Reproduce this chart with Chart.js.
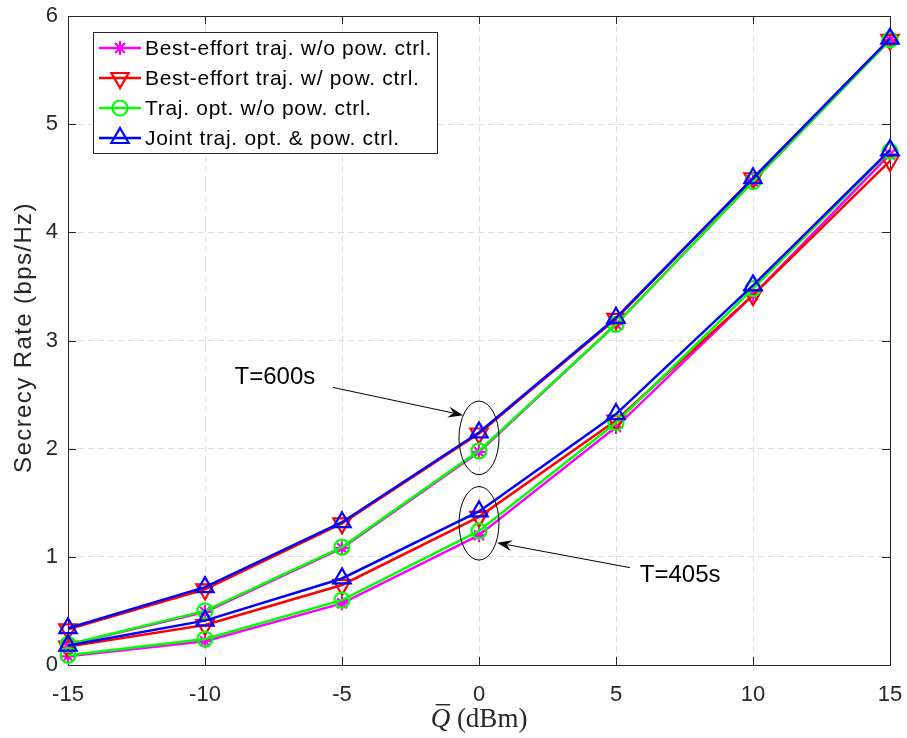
<!DOCTYPE html>
<html>
<head>
<meta charset="utf-8">
<script src="https://cdn.jsdelivr.net/npm/chart.js@4.4.0/dist/chart.umd.min.js"></script>
<style>
  html, body { margin: 0; padding: 0; background: #fff; }
</style>
</head>
<body>
<canvas id="chart" width="907" height="738"></canvas>
<script>
// Q̄ (dBm)
const qdBm = [-15, -10, -5, 0, 5, 10, 15];

// T = 600 s
const bestNoPow600 = [0.19, 0.49, 1.08, 1.97, 3.15, 4.47, 5.78];
const bestPow600   = [0.33, 0.70, 1.31, 2.14, 3.20, 4.50, 5.78];
const trajNoPow600 = [0.19, 0.50, 1.09, 1.98, 3.15, 4.47, 5.78];
const joint600     = [0.34, 0.72, 1.32, 2.15, 3.21, 4.50, 5.79];

// T = 405 s
const bestNoPow405 = [0.08, 0.22, 0.57, 1.20, 2.20, 3.42, 4.72];
const bestPow405   = [0.17, 0.37, 0.74, 1.37, 2.26, 3.42, 4.66];
const trajNoPow405 = [0.09, 0.24, 0.60, 1.24, 2.24, 3.48, 4.75];
const joint405     = [0.18, 0.41, 0.80, 1.42, 2.32, 3.51, 4.76];

const xTicks = [-15, -10, -5, 0, 5, 10, 15];
const yTicks = [0, 1, 2, 3, 4, 5, 6];

const series = [
  { label: 'Best-effort traj. w/o pow. ctrl.', color: '#ff00ff', style: 'star', rot: 0, r: 7, order: 4 },
  { label: 'Best-effort traj. w/ pow. ctrl.', color: '#ff0000', style: 'triangle', rot: 180, r: 10, order: 3 },
  { label: 'Traj. opt. w/o pow. ctrl.', color: '#00ff00', style: 'circle', rot: 0, r: 7.5, order: 2 },
  { label: 'Joint traj. opt. & pow. ctrl.', color: '#0000ff', style: 'triangle', rot: 0, r: 10, order: 1 },
];
const values600 = [bestNoPow600, bestPow600, trajNoPow600, joint600];
const values405 = [bestNoPow405, bestPow405, trajNoPow405, joint405];

const toPoints = arr => qdBm.map((q, i) => ({ x: q, y: arr[i] }));

const datasets = [];
[values600, values405].forEach(group => {
  group.forEach((vals, k) => {
    const s = series[k];
    datasets.push({
      label: s.label,
      data: toPoints(vals),
      borderColor: s.color,
      backgroundColor: 'rgba(0,0,0,0)',
      borderWidth: 2.5,
      pointStyle: s.style,
      pointRotation: s.rot,
      pointRadius: s.r,
      pointBorderWidth: 2.2,
      pointBorderColor: s.color,
      pointBackgroundColor: 'rgba(0,0,0,0)',
      tension: 0,
      clip: false,
      order: s.order,
    });
  });
});

const INK = '#262626';
const SANS = '"Liberation Sans", Arial, sans-serif';
const SERIF = '"Liberation Serif", "Times New Roman", serif';

function drawArrow(ctx, x0, y0, x1, y1) {
  const ang = Math.atan2(y1 - y0, x1 - x0);
  const L = 15, W = 5.5;
  ctx.beginPath();
  ctx.moveTo(x0, y0);
  ctx.lineTo(x1 - Math.cos(ang) * L * 0.7, y1 - Math.sin(ang) * L * 0.7);
  ctx.stroke();
  ctx.save();
  ctx.translate(x1, y1);
  ctx.rotate(ang);
  ctx.beginPath();
  ctx.moveTo(0, 0);
  ctx.lineTo(-L, -W);
  ctx.lineTo(-L * 0.65, 0);
  ctx.lineTo(-L, W);
  ctx.closePath();
  ctx.fill();
  ctx.restore();
}

function drawMarker(ctx, s, x, y) {
  ctx.save();
  ctx.strokeStyle = s.color;
  ctx.fillStyle = 'rgba(0,0,0,0)';
  ctx.lineWidth = 2.2;
  Chart.helpers.drawPoint(ctx, { pointStyle: s.style, rotation: s.rot, radius: s.r, borderWidth: 2.2 }, x, y);
  ctx.restore();
}

const noPad = s => { s.paddingTop = 0; s.paddingBottom = 0; s.paddingLeft = 0; s.paddingRight = 0; };

const decor = {
  id: 'decor',
  beforeDatasetsDraw(chart) {
    const { ctx, chartArea: a, scales: { x, y } } = chart;
    ctx.save();
    ctx.strokeStyle = INK;
    ctx.lineWidth = 1;
    ctx.strokeRect(a.left + 0.5, a.top + 0.5, a.right - a.left, a.bottom - a.top);
    ctx.beginPath();
    const T = 8;
    xTicks.forEach(v => {
      const px = Math.round(x.getPixelForValue(v)) + 0.5;
      ctx.moveTo(px, a.bottom); ctx.lineTo(px, a.bottom - T);
      ctx.moveTo(px, a.top); ctx.lineTo(px, a.top + T);
    });
    yTicks.forEach(v => {
      const py = Math.round(y.getPixelForValue(v)) + 0.5;
      ctx.moveTo(a.left, py); ctx.lineTo(a.left + T, py);
      ctx.moveTo(a.right, py); ctx.lineTo(a.right - T, py);
    });
    ctx.stroke();
    ctx.restore();
  },
  afterDatasetsDraw(chart) {
    const { ctx, chartArea: a, scales: { x, y } } = chart;
    ctx.save();
    ctx.strokeStyle = '#000';
    ctx.fillStyle = '#000';
    ctx.lineWidth = 1;

    // ellipses round the 0 dBm points
    const rx = x.getPixelForValue(0.73) - x.getPixelForValue(0);
    const ry = y.getPixelForValue(0) - y.getPixelForValue(0.34);
    [2.10, 1.31].forEach(cy => {
      ctx.beginPath();
      ctx.ellipse(x.getPixelForValue(0), y.getPixelForValue(cy), rx, ry, 0, 0, Math.PI * 2);
      ctx.stroke();
    });

    // arrows
    drawArrow(ctx, x.getPixelForValue(-5.33), y.getPixelForValue(2.566),
                   x.getPixelForValue(-0.58), y.getPixelForValue(2.31));
    drawArrow(ctx, x.getPixelForValue(5.51), y.getPixelForValue(0.90),
                   x.getPixelForValue(0.66), y.getPixelForValue(1.13));

    ctx.font = '24px ' + SANS;
    ctx.textAlign = 'center';
    ctx.textBaseline = 'middle';
    ctx.fillText('T=600s', x.getPixelForValue(-7.45), y.getPixelForValue(2.66));
    ctx.fillText('T=405s', x.getPixelForValue(7.34), y.getPixelForValue(0.83));

    // legend box
    const lx = a.left + 25, ly = a.top + 16, lw = 344, lh = 121;
    ctx.fillStyle = '#fff';
    ctx.fillRect(lx, ly, lw, lh);
    ctx.strokeStyle = INK;
    ctx.strokeRect(lx + 0.5, ly + 0.5, lw, lh);
    ctx.textAlign = 'left';
    ctx.font = '21px ' + SANS;
    ctx.letterSpacing = '0.7px';
    series.forEach((s, i) => {
      const ry2 = ly + 16 + i * 30;
      ctx.strokeStyle = s.color;
      ctx.lineWidth = 2.5;
      ctx.beginPath();
      ctx.moveTo(lx + 6, ry2); ctx.lineTo(lx + 48, ry2);
      ctx.stroke();
      drawMarker(ctx, s, lx + 27, ry2);
      ctx.fillStyle = '#000';
      ctx.fillText(s.label, lx + 52, ry2 + 1);
    });

    // y axis title
    ctx.fillStyle = INK;
    ctx.save();
    ctx.translate(24, (a.top + a.bottom) / 2 - 3);
    ctx.rotate(-Math.PI / 2);
    ctx.textAlign = 'center';
    ctx.font = '24px ' + SANS;
    ctx.letterSpacing = '1.4px';
    ctx.fillText('Secrecy Rate (bps/Hz)', 0, 0);
    ctx.restore();

    // x axis title: Q with a bar, then (dBm)
    ctx.letterSpacing = '0px';
    ctx.textBaseline = 'alphabetic';
    const cx = (a.left + a.right) / 2, base = 727;
    ctx.font = 'italic 27px ' + SERIF;
    const qW = ctx.measureText('Q').width;
    ctx.font = '27px ' + SERIF;
    const restW = ctx.measureText(' (dBm)').width;
    const sx = cx - (qW + restW) / 2;
    ctx.textAlign = 'left';
    ctx.font = 'italic 27px ' + SERIF;
    ctx.fillText('Q', sx, base);
    ctx.fillRect(sx + 5, base - 23, qW - 5, 1.4);
    ctx.font = '27px ' + SERIF;
    ctx.fillText(' (dBm)', sx + qW, base);
    ctx.restore();
  },
};

new Chart(document.getElementById('chart'), {
  type: 'line',
  data: { datasets },
  options: {
    responsive: false,
    animation: false,
    devicePixelRatio: 1,
    layout: { padding: { top: 16, right: 17, left: 0, bottom: 0 } },
    plugins: { legend: { display: false }, tooltip: { enabled: false } },
    scales: {
      x: {
        type: 'linear', min: -15, max: 15,
        afterBuildTicks: s => { s.ticks = xTicks.map(v => ({ value: v })); },
        afterFit: s => { s.height = 73; noPad(s); },
        ticks: { font: { size: 22, family: SANS }, color: INK, padding: 17 },
        grid: { color: '#dedede', drawTicks: false, lineWidth: 1 },
        border: { display: false, dash: [6, 4] },
      },
      y: {
        min: 0, max: 6,
        afterBuildTicks: s => { s.ticks = yTicks.map(v => ({ value: v })); },
        afterFit: s => { s.width = 68; noPad(s); },
        ticks: { font: { size: 22, family: SANS }, color: INK, padding: 10 },
        grid: { color: '#dedede', drawTicks: false, lineWidth: 1 },
        border: { display: false, dash: [6, 4] },
      },
    },
  },
  plugins: [decor],
});
</script>
</body>
</html>
